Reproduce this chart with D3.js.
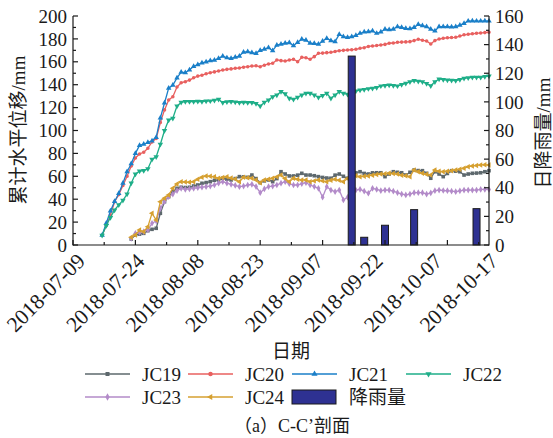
<!DOCTYPE html>
<html>
<head>
<meta charset="utf-8">
<script src="https://cdn.jsdelivr.net/npm/d3@7/dist/d3.min.js"></script>
<style>
  html, body { margin: 0; padding: 0; background: #fff; }
  svg { display: block; }
  text { font-family: "Liberation Serif", "Noto Sans CJK SC", serif; fill: #1a1a1a; }
</style>
</head>
<body>
<svg id="chart" width="553" height="438"></svg>
<script>
// Daily cumulative horizontal displacement (mm) per monitoring point.
// JC20–JC22 start on 2018-07-16, JC19/JC23/JC24 start on 2018-07-23; all run daily to 2018-10-17.
const startEarly = "2018-07-16";
const startLate = "2018-07-23";

const jc21 = [8.5,19,29.7,38,45,54,64,71,80,87,88,89.5,91,94,111,124,137,139.5,146,151,150.5,153,156,157.5,159,160,161,161.5,163,165,163.5,163,164,165,168.5,168.8,168,167.4,170,171,172.3,169.7,174.5,175.5,176.2,176.7,174,177,179.7,179,176.2,176,175.3,178,180.5,178.5,177.6,184,182,181.4,182,183,184.9,186,186.3,186.9,184.9,186,188.4,188,188.6,190.7,190,189.2,189,190,192.7,191.5,190.7,188.5,186.9,190.7,190.7,190.7,190.5,190.7,192,193.6,195.6,195.8,195.6,195.6,195.8,195.6];
const jc20 = [8.5,17,26,37.8,44,52,60,69,76,79.5,81,84.5,90,93,107,118,126.6,129.5,138,141.7,142.6,144,146,147.5,148.3,149.5,150.5,151.2,152,152.8,153.4,153.8,154.3,154.6,155.3,155.7,156.3,156.5,155.7,157,158.1,158.7,161.6,161,160.7,161.5,162.2,160.1,163.9,163.6,162.2,164.5,167.4,167.6,168,168.3,169,169.7,170,170.3,170.6,170.9,171.8,172.3,173.4,173.8,174.2,174.7,175.2,176.2,176.4,177,177.2,177.4,177.6,178.5,179.7,178.8,178.2,175.5,178.5,179.9,180.5,181,181.2,181.4,182.5,183.6,184,184.5,184.9,185.2,185.5,185.8];
const jc22 = [8.5,17,24,30.6,35,39,44.5,54,62,64.5,65,66.5,74.8,77.1,88,100,109.2,110.7,121.4,124.5,125.2,125.2,125.2,125.4,125.2,125.6,125.8,126.4,127.2,124.3,125,125.2,124.8,124.3,124.5,124.3,124.3,123.5,121.4,124.5,126.6,129.5,131,133.9,132,128.1,127.2,129,131,132.5,132.5,131,129,130.5,132.5,128.1,131,133.9,132.5,131.6,133.5,134.5,135.4,135.8,136.5,136.9,137.5,138.9,139.2,139.7,139.3,138.9,140,141.2,142.5,143.5,143,142.6,141,139.1,142.5,145,144.5,144.1,143.8,143.5,144.5,145.6,146,146.5,146.5,146.5,147,147.6];
const jc19 = [5.2,8.7,9.5,10.2,12.5,13.7,14.6,27.7,37.8,42.2,46.6,49.5,50.4,50.2,50.4,51.5,52.4,53.9,54.5,55.3,56.5,56.8,58.3,57.5,56.8,58,59.7,59.5,59.1,61.1,58,54.4,56,56.8,55.3,58,64,62,60.3,60.3,61,62.6,61.1,61.1,60.5,59.7,59,58.5,58.3,61,62,60,58.3,62.6,63,64,62.5,62,63,63.1,63.1,59.7,62,64,63.5,63.1,61.1,63.5,65.5,65,64.9,62.6,58.3,64,62,59.7,62.5,64.9,64.5,64,61.1,62,62.6,62.8,63.1,64,64.9];
const jc24 = [6.7,8.7,13.1,11.6,16,27.7,21.8,37.8,40.8,43.7,49.5,53.3,55.3,55,54.8,55.3,57.5,59.1,60.3,60,59.7,58.3,59,59.7,58.5,57.6,55.3,59.1,58.8,58.3,56.8,54.4,56.8,57.5,58.3,59.5,61.1,58,55.3,58.3,57.5,56.8,56.8,55.3,56,56.8,56,55.3,56.5,57.4,56.5,55.3,58,61.1,60.5,59.7,60,60.3,61,61.5,62,62.3,62.6,62.4,62,61,60.5,59.7,65.5,64,62.6,61.8,61.1,65.5,64.5,64,64.5,64.9,65.5,66.2,67,68.4,69,69.5,69.9,70,69.9];
const jc23 = [5.8,10.2,11,11.6,13.1,19,21,32,38,42.2,44.5,47.5,49.5,48.6,49,49.5,50,50.5,50.9,51.5,52.4,54,55.3,54,53,52,50.9,51.5,52.4,53,51,45.7,49,50.9,51.5,52.4,54,55.3,53.5,52.4,52.4,53.5,54.4,52.4,51,49.5,41.7,50.9,48,46.6,48,39.3,41.7,47.4,48,48.6,47,45.2,49.5,48.5,47.4,48,48,47,45.7,44.5,43.7,44.5,45.7,45.7,45.7,44.5,45.5,47.4,48,47.6,47.4,47,46.6,47.3,48,48,48,48,48.5,48.5,48.5];

// Daily rainfall (mm)
const rainDates = ["2018-09-14","2018-09-17","2018-09-22","2018-09-29","2018-10-14"];
const rainValues = [132,5.4,13.8,24.7,25.4];

// Axis ticks
const xTickLabels = ["2018-07-09","2018-07-24","2018-08-08","2018-08-23","2018-09-07","2018-09-22","2018-10-07","2018-10-17"];
const leftTicks = [0,20,40,60,80,100,120,140,160,180,200];
const rightTicks = [0,20,40,60,80,100,120,140,160];

const seriesNames = ["JC19","JC20","JC21","JC22","JC23","JC24"];
const seriesColors = ["#5d686d","#e8605f","#1a7fc8","#1eae88","#b38bc9","#d6a030"];
const seriesSymbols = [d3.symbolSquare, d3.symbolCircle, d3.symbolTriangle, "triDown", d3.symbolDiamond, "triLeft"];

const parse = d3.timeParse("%Y-%m-%d");
function toPoints(start, values) {
  const s = parse(start);
  return values.map((v, i) => ({ date: d3.timeDay.offset(s, i), value: v }));
}
const seriesData = [
  toPoints(startLate, jc19),
  toPoints(startEarly, jc20),
  toPoints(startEarly, jc21),
  toPoints(startEarly, jc22),
  toPoints(startLate, jc23),
  toPoints(startLate, jc24)
];

const svg = d3.select("#chart");
const L = 73, R = 489, T = 16, B = 245;

const x = d3.scaleTime().domain([parse("2018-07-09"), parse("2018-10-17")]).range([L, R]);
const yL = d3.scaleLinear().domain([0, 200]).range([B, T]);
const yR = d3.scaleLinear().domain([0, 160]).range([B, T]);

// marker path generator, including rotated triangles
function markerPath(sym, size) {
  if (sym === "triDown") return { d: d3.symbol(d3.symbolTriangle, size)(), rot: 180 };
  if (sym === "triLeft") return { d: d3.symbol(d3.symbolTriangle, size)(), rot: -90 };
  return { d: d3.symbol(sym, size)(), rot: 0 };
}

// lines + markers
const plot = svg.append("g");
const line = d3.line().x(d => x(d.date)).y(d => yL(d.value));
seriesData.forEach((data, i) => {
  const g = plot.append("g");
  g.append("path").datum(data)
    .attr("d", line)
    .attr("fill", "none")
    .attr("stroke", seriesColors[i])
    .attr("stroke-width", 1.3)
    .attr("stroke-linejoin", "round");
  const m = markerPath(seriesSymbols[i], i === 1 ? 10 : 13);
  g.selectAll("path.m").data(data).enter().append("path")
    .attr("class", "m")
    .attr("d", m.d)
    .attr("transform", d => `translate(${x(d.date)},${yL(d.value)}) rotate(${m.rot})`)
    .attr("fill", seriesColors[i]);
});

// rainfall bars, drawn on top of the displacement curves
const barW = 7;
svg.append("g").selectAll("rect").data(rainDates.map((d, i) => ({ date: parse(d), value: rainValues[i] })))
  .enter().append("rect")
  .attr("x", d => x(d.date) - barW / 2)
  .attr("y", d => yR(d.value))
  .attr("width", barW)
  .attr("height", d => B - yR(d.value))
  .attr("fill", "#2e3192")
  .attr("stroke", "#1a1a1a")
  .attr("stroke-width", 1);

// axes
const axisColor = "#1a1a1a";
const ax = svg.append("g").attr("stroke", axisColor).attr("stroke-width", 1.2).attr("fill", "none");
ax.append("line").attr("x1", L).attr("x2", L).attr("y1", T).attr("y2", B + 0.6);
ax.append("line").attr("x1", R).attr("x2", R).attr("y1", T).attr("y2", B + 0.6);
ax.append("line").attr("x1", L).attr("x2", R).attr("y1", B).attr("y2", B);

// left ticks (inward), with minor ticks between
d3.range(0, 201, 10).forEach(v => {
  const major = v % 20 === 0;
  ax.append("line").attr("x1", L).attr("x2", L + (major ? 5 : 3)).attr("y1", yL(v)).attr("y2", yL(v));
});
// right ticks (inward)
d3.range(0, 161, 10).forEach(v => {
  const major = v % 20 === 0;
  ax.append("line").attr("x1", R).attr("x2", R - (major ? 5 : 3)).attr("y1", yR(v)).attr("y2", yR(v));
});
// bottom ticks every 7.5 days
const t0 = parse("2018-07-09").getTime();
const halfStep = 7.5 * 864e5;
for (let k = 0; k <= 13; k++) {
  const t = new Date(t0 + k * halfStep);
  if (t > x.domain()[1]) break;
  const major = k % 2 === 0;
  ax.append("line").attr("x1", x(t)).attr("x2", x(t)).attr("y1", B).attr("y2", B - (major ? 5 : 3));
}

const fs = 19;
// left tick labels
svg.append("g").selectAll("text").data(leftTicks).enter().append("text")
  .attr("x", L - 6).attr("y", d => yL(d)).attr("dy", "0.35em")
  .attr("text-anchor", "end").style("font-size", fs + "px").text(d => d);
// right tick labels
svg.append("g").selectAll("text").data(rightTicks).enter().append("text")
  .attr("x", R + 6).attr("y", d => yR(d)).attr("dy", "0.35em")
  .attr("text-anchor", "start").style("font-size", fs + "px").text(d => d);
// bottom tick labels, rotated; the dated labels sit on an evenly spaced
// run and the last one closes the axis at its right end
const labelRun = d3.scaleLinear().domain([0, 6]).range([L + 8, x(parse("2018-10-07")) - 9]);
svg.append("g").selectAll("text").data(xTickLabels).enter().append("text")
  .attr("transform", (d, i) => {
    const px = i < 7 ? labelRun(i) : R + 5;
    return `translate(${px},${B + 12}) rotate(-45)`;
  })
  .attr("dy", "0.35em")
  .attr("text-anchor", "end").style("font-size", "21.5px").text(d => d);

// axis titles
svg.append("text").attr("transform", `translate(18,130) rotate(-90)`)
  .attr("text-anchor", "middle").attr("dy", "0.35em").style("font-size", fs + "px").text("累计水平位移/mm");
svg.append("text").attr("transform", `translate(543,133) rotate(-90)`)
  .attr("text-anchor", "middle").attr("dy", "0.35em").style("font-size", fs + "px").text("日降雨量/mm");
svg.append("text").attr("x", 291).attr("y", 351).attr("dy", "0.35em")
  .attr("text-anchor", "middle").style("font-size", fs + "px").text("日期");

// legend
const legendItems = [
  { col: 0, row: 0, s: 0 }, { col: 1, row: 0, s: 1 }, { col: 2, row: 0, s: 2 }, { col: 3, row: 0, s: 3 },
  { col: 0, row: 1, s: 4 }, { col: 1, row: 1, s: 5 }
];
const colX = [85, 188, 292, 406];
const rowY = [374, 397];
const lg = svg.append("g");
legendItems.forEach(it => {
  const x0 = colX[it.col], y0 = rowY[it.row];
  lg.append("line").attr("x1", x0).attr("x2", x0 + 45).attr("y1", y0).attr("y2", y0)
    .attr("stroke", seriesColors[it.s]).attr("stroke-width", 1.3);
  const m = markerPath(seriesSymbols[it.s], 16);
  lg.append("path").attr("d", m.d)
    .attr("transform", `translate(${x0 + 22.5},${y0}) rotate(${m.rot})`)
    .attr("fill", seriesColors[it.s]);
  lg.append("text").attr("x", x0 + 57).attr("y", y0).attr("dy", "0.35em")
    .style("font-size", fs + "px").text(seriesNames[it.s]);
});
lg.append("rect").attr("x", 292).attr("y", 390).attr("width", 44).attr("height", 14)
  .attr("fill", "#2e3192").attr("stroke", "#1a1a1a").attr("stroke-width", 1);
lg.append("text").attr("x", 349).attr("y", 397).attr("dy", "0.35em")
  .style("font-size", fs + "px").text("降雨量");

// caption
svg.append("text").attr("x", 292).attr("y", 426).attr("dy", "0.35em")
  .attr("text-anchor", "middle").style("font-size", "18px").text("（a）C-C’剖面");
</script>
</body>
</html>
